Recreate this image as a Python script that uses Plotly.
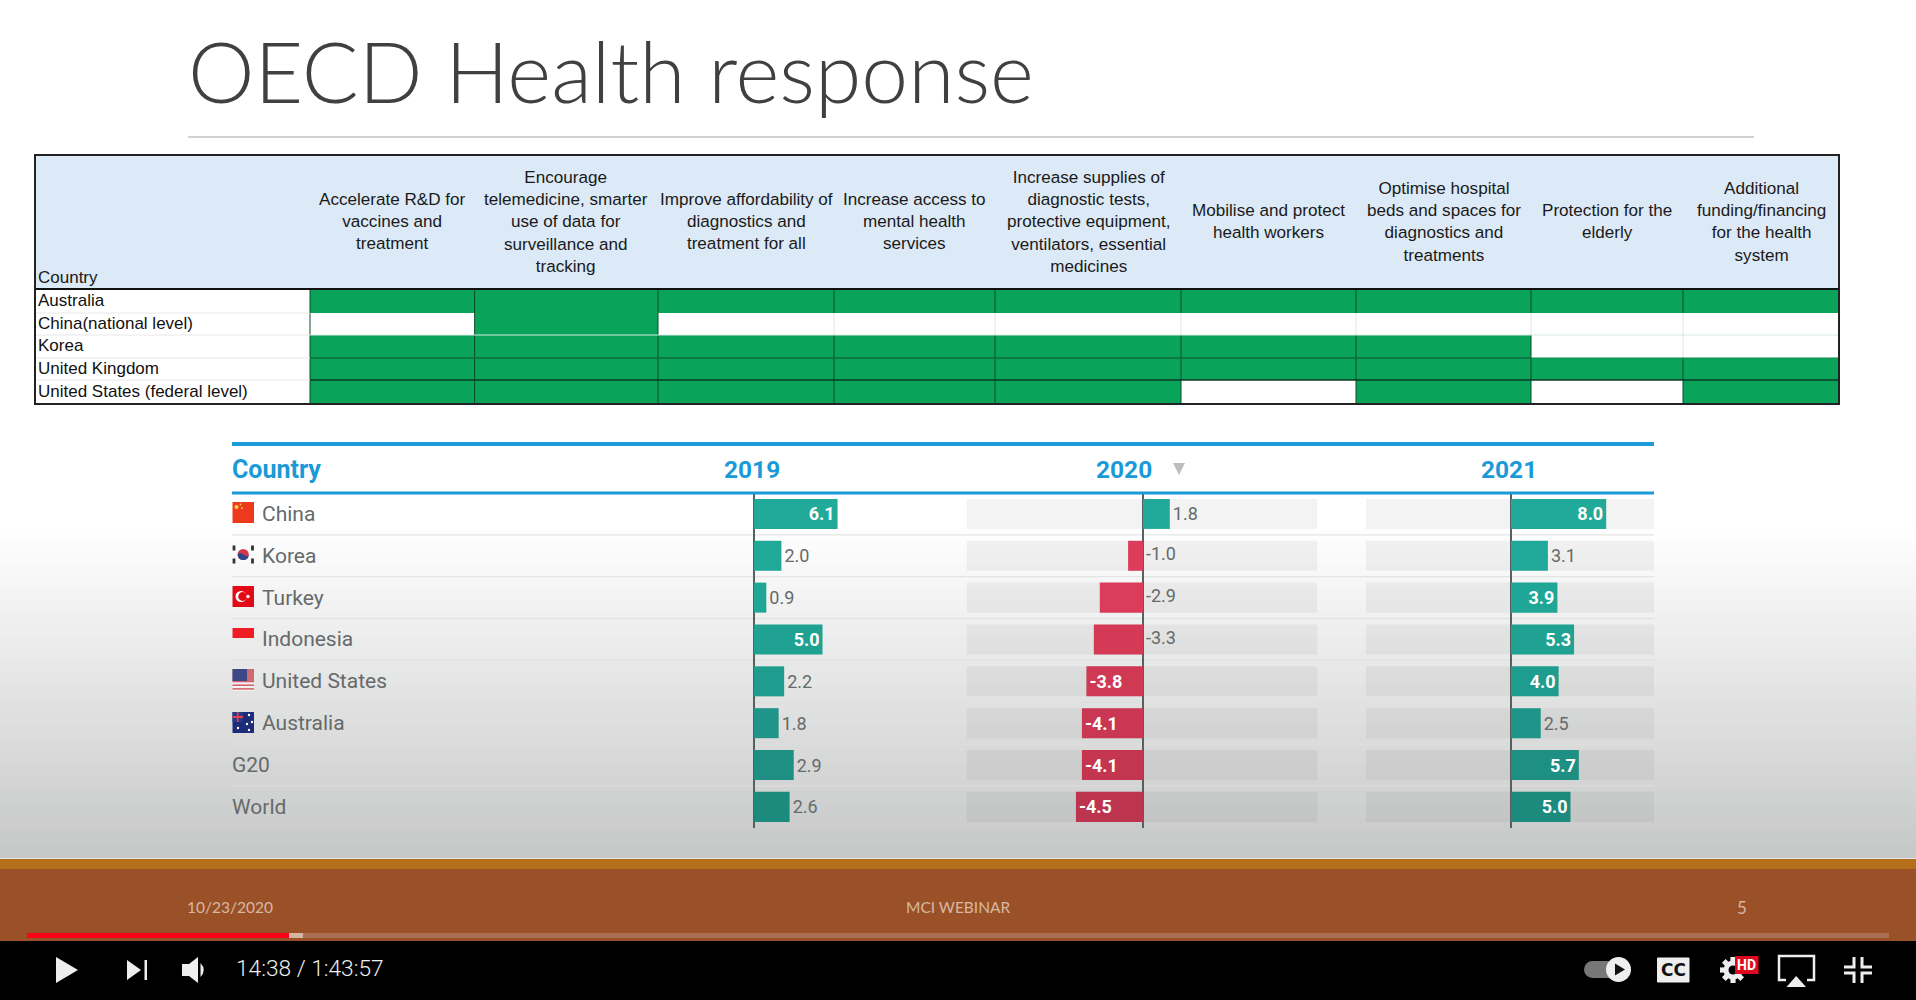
import math
import plotly.graph_objects as go

# ---------- data ----------
countries = ["China", "Korea", "Turkey", "Indonesia", "United States", "Australia", "G20", "World"]
gdp_2019 = [6.1, 2.0, 0.9, 5.0, 2.2, 1.8, 2.9, 2.6]
gdp_2020 = [1.8, -1.0, -2.9, -3.3, -3.8, -4.1, -4.1, -4.5]
gdp_2021 = [8.0, 3.1, 3.9, 5.3, 4.0, 2.5, 5.7, 5.0]

measures = [
    "Accelerate R&D for<br>vaccines and<br>treatment",
    "Encourage<br>telemedicine, smarter<br>use of data for<br>surveillance and<br>tracking",
    "Improve affordability of<br>diagnostics and<br>treatment for all",
    "Increase access to<br>mental health<br>services",
    "Increase supplies of<br>diagnostic tests,<br>protective equipment,<br>ventilators, essential<br>medicines",
    "Mobilise and protect<br>health workers",
    "Optimise hospital<br>beds and spaces for<br>diagnostics and<br>treatments",
    "Protection for the<br>elderly",
    "Additional<br>funding/financing<br>for the health<br>system",
]
table_rows = ["Australia", "China(national level)", "Korea", "United Kingdom", "United States (federal level)"]
adopted = [
    [1, 1, 1, 1, 1, 1, 1, 1, 1],
    [0, 1, 0, 0, 0, 0, 0, 0, 0],
    [1, 1, 1, 1, 1, 1, 1, 0, 0],
    [1, 1, 1, 1, 1, 1, 1, 1, 1],
    [1, 1, 1, 1, 1, 0, 1, 0, 1],
]

# ---------- layout constants (page pixels) ----------
W, H = 1916, 1000
col_edges = [310, 474.6, 658, 834, 995, 1181, 1356, 1531, 1683, 1839]
row_edges = [289, 313, 335, 358, 380, 404]
tbl_left, tbl_top = 35, 155
pad_top, row_h = 493, 41.85
n = len(countries)
row_sep = [pad_top + row_h * (i + 1) for i in range(n - 1)]
row_mid = [pad_top + row_h * (i + 0.5) for i in range(n)]
teal = ["#21aa9a", "#20a999", "#20a696", "#1fa292", "#1e9c8d", "#1e9588", "#1e9083", "#1d8a7e"]
red = ["#de3e5c", "#dc3d5b", "#da3c59", "#d43a56", "#cf3954", "#c93752", "#c43650", "#bd344e"]
SANS = "Liberation Sans"
ROBOTO = "Roboto"
GREY = "#666a6a"

panels = [  # axis, values, left px, axis px, right px, px per unit, grey backing
    ("x2", gdp_2019, 754, 754, 877, 13.7, False),
    ("x3", gdp_2020, 966.5, 1143, 1317.5, 14.9, True),
    ("x4", gdp_2021, 1365.7, 1511, 1654, 11.9, True),
]

fig = go.Figure()
shapes, notes = [], []


def rect(x0, y0, x1, y1, color, layer="above", line=None):
    if layer == "below":  # paper-referenced so it sits beneath every subplot
        shapes.append(dict(type="rect", xref="paper", yref="paper", x0=x0 / W, y0=1 - y0 / H, x1=x1 / W, y1=1 - y1 / H,
                           fillcolor=color, line=dict(width=0), layer="below"))
    else:
        shapes.append(dict(type="rect", xref="x10", yref="y10", x0=x0, y0=y0, x1=x1, y1=y1, fillcolor=color,
                           line=dict(width=0) if line is None else line, layer="above"))


def hline(x0, x1, y, color, w, layer="above"):
    if layer == "below":
        shapes.append(dict(type="line", xref="paper", yref="paper", x0=x0 / W, x1=x1 / W, y0=1 - y / H, y1=1 - y / H,
                           line=dict(color=color, width=w), layer="below"))
    else:
        shapes.append(dict(type="line", xref="x10", yref="y10", x0=x0, x1=x1, y0=y, y1=y,
                           line=dict(color=color, width=w), layer="above"))


def vline(x, y0, y1, color, w):
    shapes.append(dict(type="line", xref="x10", yref="y10", x0=x, x1=x, y0=y0, y1=y1,
                       line=dict(color=color, width=w), layer="above"))


def path(d, color, line=None):
    shapes.append(dict(type="path", xref="x10", yref="y10", path=d, fillcolor=color,
                       line=dict(width=0) if line is None else line, layer="above"))


def circle(cx, cy, r, color, line=None):
    shapes.append(dict(type="circle", xref="x10", yref="y10", x0=cx - r, x1=cx + r, y0=cy - r, y1=cy + r,
                       fillcolor=color, line=dict(width=0) if line is None else line, layer="above"))


def text(x, y, s, size, color, family=SANS, xanchor="left", weight=None):
    f = dict(size=size, color=color, family=family)
    if weight:
        f["weight"] = weight
    notes.append(dict(xref="x10", yref="y10", x=x, y=y, text=s, showarrow=False, xanchor=xanchor, yanchor="middle",
                      font=f, align="center" if xanchor == "center" else "left", borderpad=0, borderwidth=0))


# ---------- page background ----------
rect(0, 0, W, 532, "#ffffff", "below")
top, bot = (255, 255, 255), (198, 200, 199)
steps = 82
for i in range(steps):
    t = (i + 1) / steps
    c = tuple(round(a + (b - a) * t) for a, b in zip(top, bot))
    rect(0, 530 + 4 * i, W, 530 + 4 * i + 4.5, "rgb(%d,%d,%d)" % c, "below")

# ---------- title ----------
text(188, 70, "OECD Health response", 84, "#404040", "Lato", weight=300)
hline(188, 1754, 137, "#d2d2d2", 2)

# ---------- adoption table ----------
rect(tbl_left, tbl_top, col_edges[-1], row_edges[0], "#dce9f6", "below")
rect(tbl_left, row_edges[0], col_edges[0], row_edges[-1], "#ffffff", "below")
fig.add_trace(go.Heatmap(z=adopted, x=col_edges, y=row_edges, xaxis="x10", yaxis="y10", zmin=0, zmax=1,
                         colorscale=[[0, "#ffffff"], [1, "#0aa35a"]], showscale=False, hoverinfo="skip"))
for j in range(1, len(col_edges) - 1):
    for i in range(len(table_rows)):
        dark = adopted[i][j - 1] or adopted[i][j]
        vline(col_edges[j], row_edges[i], row_edges[i + 1], "#0b4a2a" if dark else "#e4e4e4", 1)
for i in range(len(table_rows)):
    vline(col_edges[0], row_edges[i], row_edges[i + 1], "#0b4a2a", 1)
for k in range(1, 5):
    hline(tbl_left, col_edges[0], row_edges[k], "#e8e8e8", 1)
hline(col_edges[0], col_edges[-1], row_edges[2], "#d8e8de", 1)
hline(col_edges[0], col_edges[7], row_edges[3], "#0b6a3a", 1.5)
hline(col_edges[7], col_edges[-1], row_edges[3], "#0b8a4a", 1)
hline(col_edges[0], col_edges[-1], row_edges[4], "#0b3a22", 1.5)
hline(tbl_left, col_edges[-1], row_edges[0], "#111111", 2)
rect(tbl_left, tbl_top, col_edges[-1], row_edges[-1], "rgba(0,0,0,0)", line=dict(color="#222222", width=2))
for j, m in enumerate(measures):
    text((col_edges[j] + col_edges[j + 1]) / 2, 221.5, m, 17.1, "#1a1a1a", xanchor="center")
text(38, 277, "Country", 17, "#1a1a1a")
for i, r in enumerate(table_rows):
    text(38, (row_edges[i] + row_edges[i + 1]) / 2 - 1, r, 17, "#111111")

# ---------- growth table ----------
hline(232, 1654, 444, "#1a9ad6", 4)
hline(232, 1654, 493, "#1a9ad6", 3)
for y in row_sep:
    hline(232, 1654, y, "rgba(222,222,222,0.8)", 1.2, "below")
text(232, 469, "Country", 25, "#1a9ad6", ROBOTO, weight=700)
text(752, 469, "2019", 24.5, "#1a9ad6", ROBOTO, xanchor="center", weight=700)
text(1124, 469, "2020", 24.5, "#1a9ad6", ROBOTO, xanchor="center", weight=700)
text(1509, 469, "2021", 24.5, "#1a9ad6", ROBOTO, xanchor="center", weight=700)
path("M1173,463 L1185,463 L1179,475 Z", "#bdbdbd")
for i, name in enumerate(countries):
    text(232 if name in ("G20", "World") else 262, row_mid[i], name, 21, GREY, ROBOTO)

for axis, vals, left, zero, right, scale, backing in panels:
    rng = [(left - zero) / scale, (right - zero) / scale]
    if backing:
        fig.add_trace(go.Bar(y=countries, x=[rng[1] - rng[0]] * n, base=rng[0], orientation="h", xaxis=axis, yaxis="y2",
                             marker=dict(color="rgba(90,90,90,0.07)", line=dict(width=0)), hoverinfo="skip"))
    inside = [abs(v) >= 3.5 for v in vals]
    labels = ["%.1f" % v for v in vals]
    pos = ["inside" if a else ("outside" if v > 0 else "none") for a, v in zip(inside, vals)]
    fig.add_trace(go.Bar(
        y=countries, x=vals, orientation="h", xaxis=axis, yaxis="y2", text=labels, textposition=pos,
        insidetextanchor="end", constraintext="none", cliponaxis=False, textangle=0,
        insidetextfont=dict(color="#ffffff", size=18, family=ROBOTO, weight=700),
        outsidetextfont=dict(color=GREY, size=18, family=ROBOTO),
        marker=dict(color=[teal[i] if v > 0 else red[i] for i, v in enumerate(vals)], line=dict(width=0)),
        hoverinfo="skip"))
    small_neg = [i for i, (a, v) in enumerate(zip(inside, vals)) if v < 0 and not a]
    if small_neg:
        fig.add_trace(go.Scatter(x=[0.2] * len(small_neg), y=[countries[i] for i in small_neg],
                                 text=[labels[i] for i in small_neg], mode="text", textposition="middle right",
                                 textfont=dict(color=GREY, size=18, family=ROBOTO), xaxis=axis, yaxis="y2",
                                 cliponaxis=False, hoverinfo="skip"))

# flags
fx0, fx1 = 232.5, 254
rect(fx0, 502, fx1, 523, "#ee3a1c")
circle(236.5, 507, 2, "#f7d24a")
circle(240.5, 504.5, 0.9, "#f7d24a")
circle(242, 508, 0.9, "#f7d24a")
circle(243.2, 554.5, 5.6, "#d8344a")
path("M237.6,554.5 Q238.5,560.1 243.2,560.1 Q248.2,560.1 248.8,554.5 Q247,557.5 243.2,554.5 Q240,551.5 237.6,554.5 Z", "#27478a")
for px, py in [(234, 548), (252.5, 548), (234, 561), (252.5, 561)]:
    rect(px - 1.4, py - 2.5, px + 1.4, py + 2.5, "#333333")
rect(fx0, 586, fx1, 607, "#e30a17")
circle(241, 596.5, 5.5, "#ffffff")
circle(242.6, 596.5, 4.4, "#e30a17")
circle(248, 596.5, 1.7, "#ffffff")
rect(fx0, 628, fx1, 638, "#ee1c25")
rect(fx0, 669, fx1, 691, "#f3f3f3")
for k in range(4):
    rect(fx0, 677 + k * 3.7, fx1, 678.6 + k * 3.7, "#d8636e")
rect(fx0, 669, fx1, 681, "#cf6b70")
rect(fx0, 669, 247, 681, "#3b4a86")
rect(fx0, 712, fx1, 733, "#1c2c78")
rect(fx0, 712, 243, 722, "#2b3a86")
rect(237, 712, 238.6, 722, "#e8404a")
rect(fx0, 716, 243, 718, "#e8404a")
for px, py in [(238, 728), (249, 715), (252, 722), (247, 724), (249, 730)]:
    circle(px, py, 1.2, "#ffffff")

# ---------- slide footer ----------
rect(0, 859, W, 869, "#b56f1a", "below")
rect(0, 869, W, 941, "#9a5128", "below")
text(230, 907, "10/23/2020", 15.5, "#d8b8a0", "Lato", xanchor="center")
text(958, 907, "MCI WEBINAR", 15.5, "#d8b8a0", "Lato", xanchor="center")
text(1742, 907, "5", 17, "#d8b8a0", "Lato", xanchor="center")

# ---------- player ----------
rect(0, 941, W, H, "#000000", "below")
rect(27, 933, 1889, 938, "#a86f52", "below")
rect(289, 933, 303, 938, "#d8b5a2", "below")
rect(27, 933, 289, 938, "#ff0019", "below")
ICON = "#eeeeee"
path("M56,957 L78,970 L56,983 Z", ICON)
path("M127,960 L141,970 L127,980 Z", ICON)
rect(144.5, 960, 147, 980, ICON)
path("M182,964 L189,964 L198,957 L198,983 L189,976 L182,976 Z", ICON)
path("M200.5,963 Q207,970 200.5,977 Z", ICON)
text(236, 968, "14:38 / 1:43:57", 22.7, ICON, ROBOTO, weight=300)
circle(1592.5, 969.5, 8.5, "#777777")
rect(1592.5, 961, 1620, 978, "#777777")
circle(1618.5, 969.5, 12.5, ICON)
path("M1615,963.5 L1625,969.5 L1615,975.5 Z", "#111111")
rect(1657.5, 958, 1689, 982, ICON, line=dict(color=ICON, width=1))
text(1673.2, 970, "CC", 17, "#111111", "DejaVu Sans", xanchor="center", weight=700)
# settings gear
gear_x, gear_y = 1733, 970
circle(gear_x, gear_y, 9.5, ICON)
for k in range(8):
    a = k * math.pi / 4
    c_, s_ = math.cos(a), math.sin(a)
    pts = [(7 * c_ - 2.6 * s_, 7 * s_ + 2.6 * c_), (13 * c_ - 2.6 * s_, 13 * s_ + 2.6 * c_),
           (13 * c_ + 2.6 * s_, 13 * s_ - 2.6 * c_), (7 * c_ + 2.6 * s_, 7 * s_ - 2.6 * c_)]
    path("M" + " L".join("%.2f,%.2f" % (gear_x + p, gear_y + q) for p, q in pts) + " Z", ICON)
circle(gear_x, gear_y, 4.5, "#000000")
rect(1735, 956, 1758.5, 974, "#e0081e")
text(1746.7, 965, "HD", 14, "#ffffff", ROBOTO, xanchor="center", weight=700)
path("M1786,980 L1779,980 L1779,956 L1814,956 L1814,980 L1807,980", "rgba(0,0,0,0)", line=dict(color=ICON, width=2.5))
path("M1786.5,987 L1796.2,976 L1806,987 Z", ICON)
for d in ("M1854,957 L1854,967 L1844,967", "M1862,957 L1862,967 L1872,967",
          "M1854,983 L1854,973 L1844,973", "M1862,983 L1862,973 L1872,973"):
    path(d, "rgba(0,0,0,0)", line=dict(color=ICON, width=3))

# ---------- axes ----------
px_x = dict(domain=[0, 1], range=[0, W], visible=False, fixedrange=True, anchor="y10")
px_y = dict(domain=[0, 1], range=[H, 0], visible=False, fixedrange=True, anchor="x10")
layout_axes = dict(xaxis10=px_x, yaxis10=px_y)
y_dom = [1 - (pad_top + n * row_h) / H, 1 - pad_top / H]
layout_axes["yaxis2"] = dict(domain=y_dom, type="category", categoryorder="array", categoryarray=countries,
                             autorange="reversed", visible=False, fixedrange=True, anchor="x2")
for k, (axis, vals, left, zero, right, scale, backing) in enumerate(panels):
    layout_axes["xaxis" + axis[1:]] = dict(
        domain=[left / W, right / W], range=[(left - zero) / scale, (right - zero) / scale], anchor="y2",
        showgrid=False, showticklabels=False, ticks="", showline=False, zeroline=True,
        zerolinecolor="#556060", zerolinewidth=1.5, fixedrange=True)

fig.update_layout(width=W, height=H, autosize=False, margin=dict(l=0, r=0, t=0, b=0), showlegend=False,
                  paper_bgcolor="rgba(0,0,0,0)", plot_bgcolor="rgba(0,0,0,0)", barmode="overlay", bargap=0.283,
                  shapes=shapes, annotations=notes, **layout_axes)
fig.write_html("out.html", config=dict(displayModeBar=False),
               post_script="document.body.style.margin='0';document.body.style.overflow='hidden';")
